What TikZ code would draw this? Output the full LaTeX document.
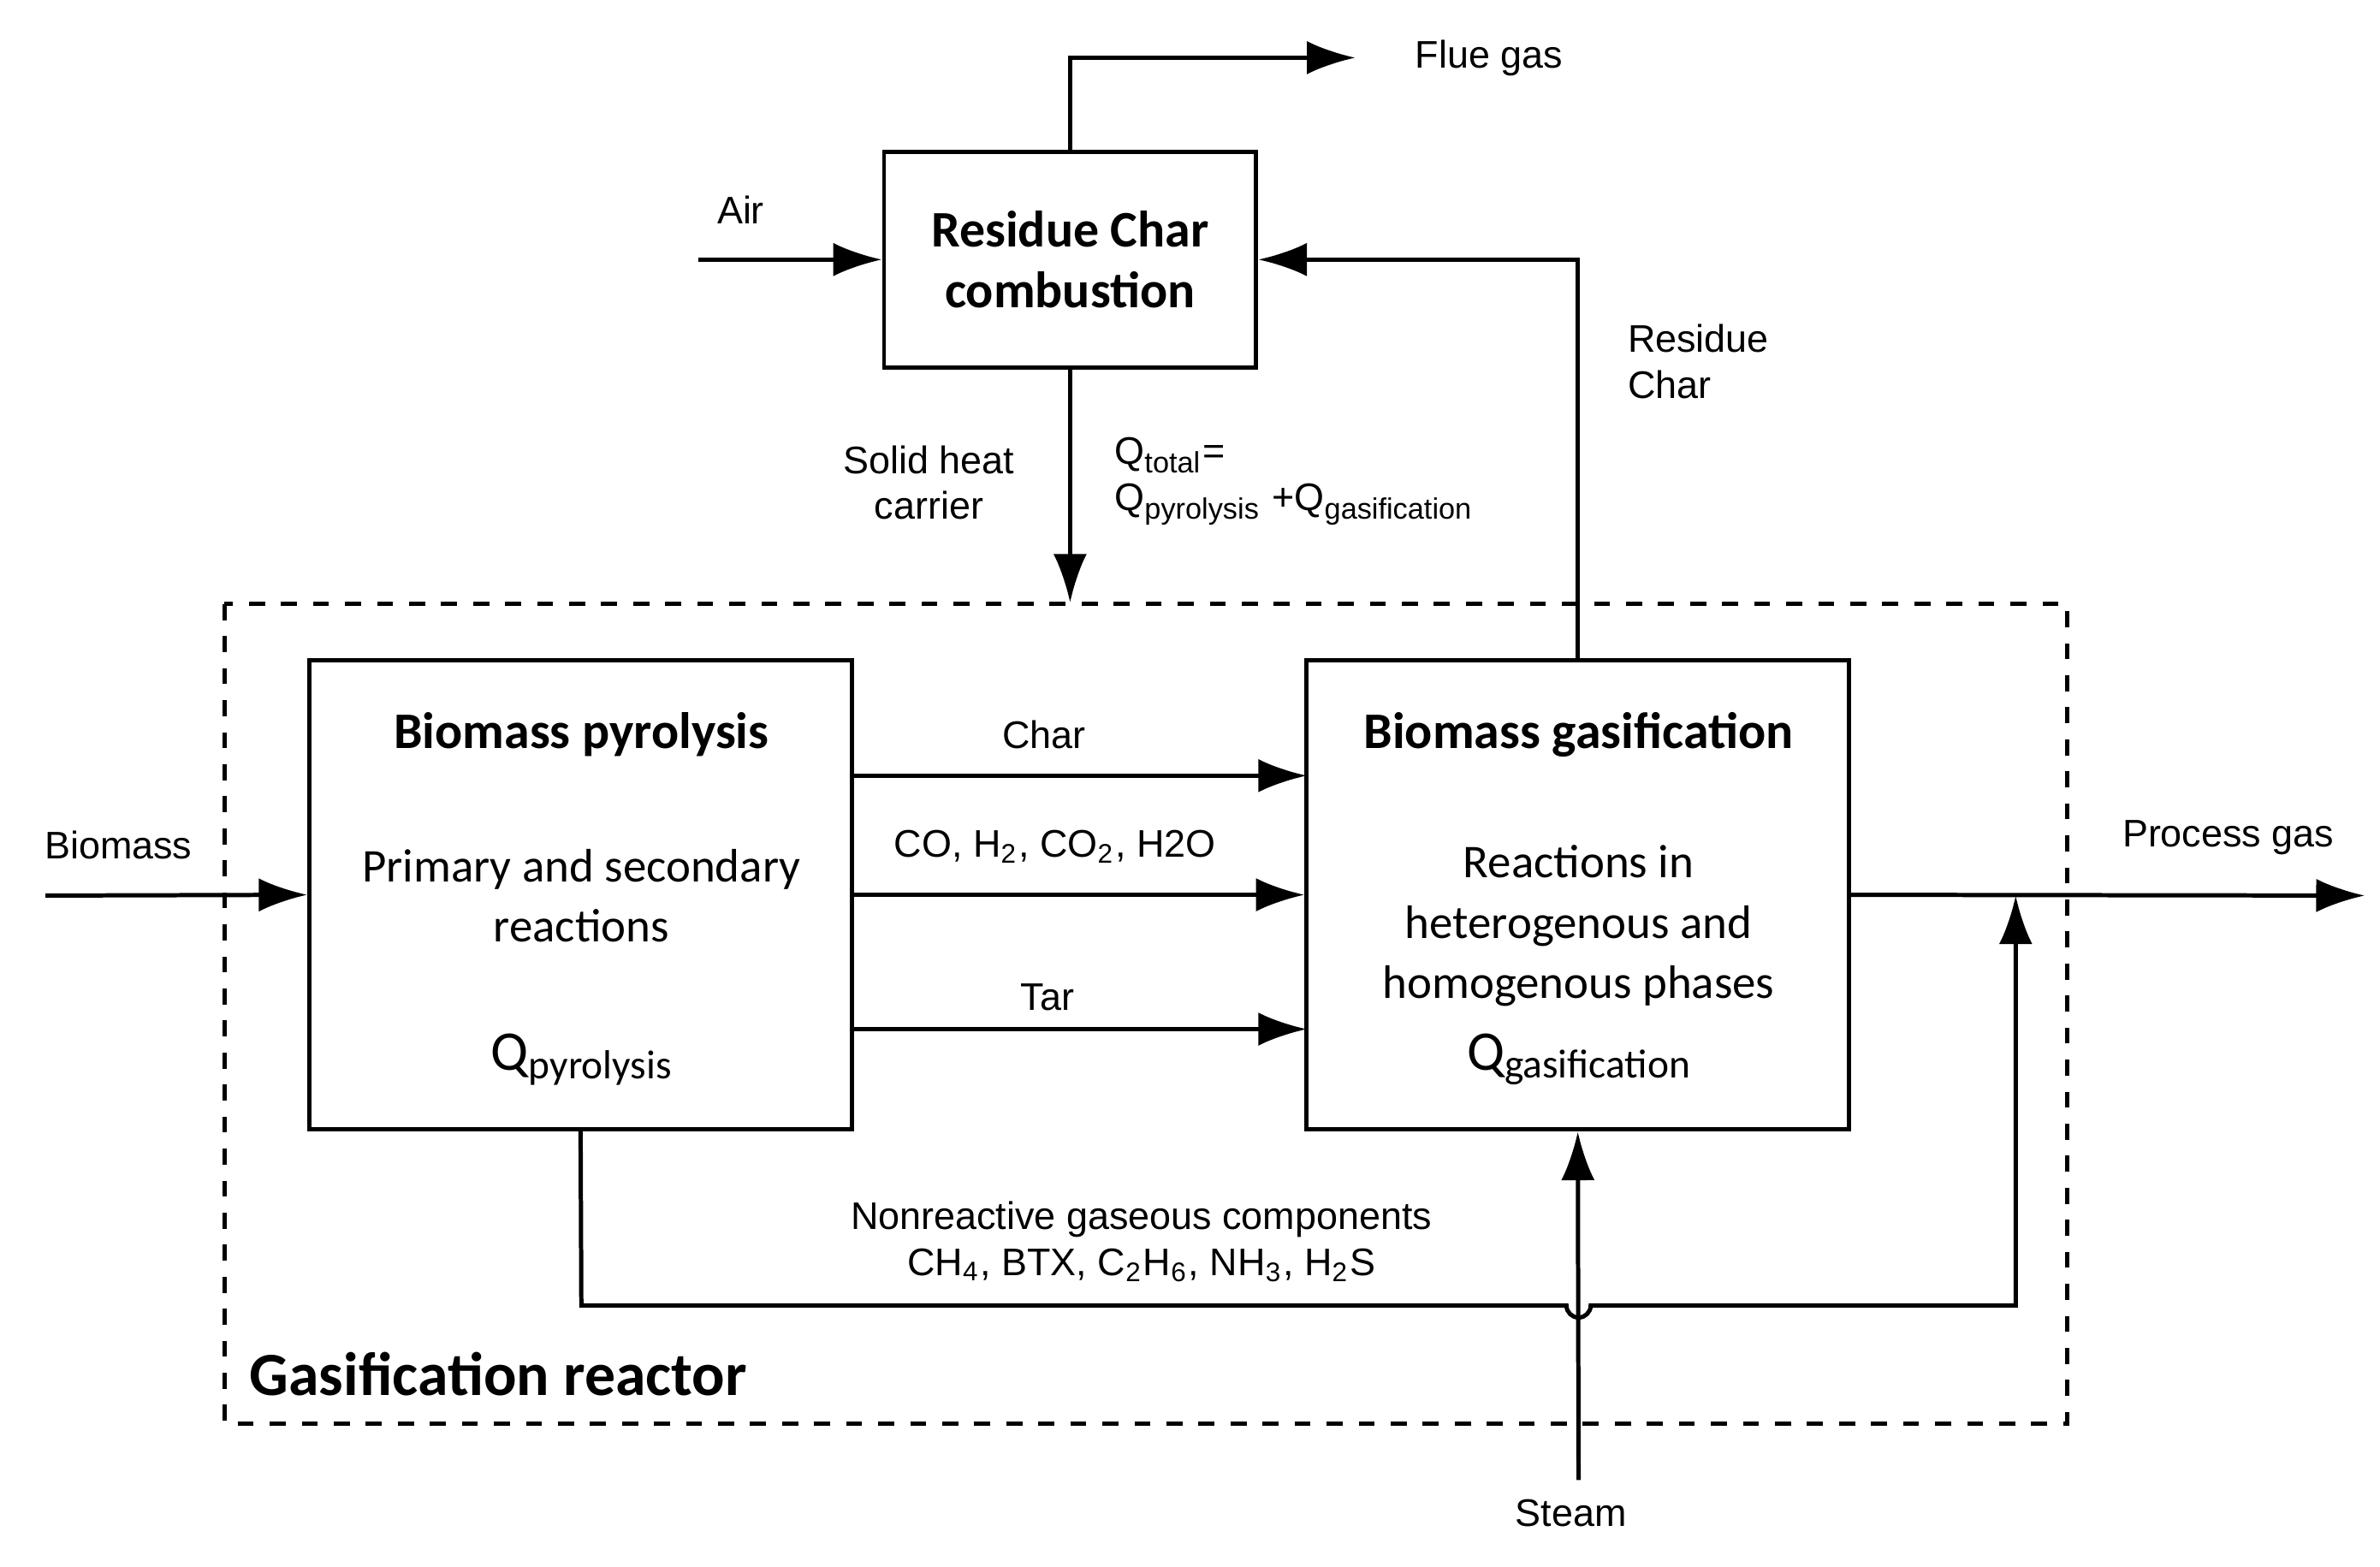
\documentclass[tikz,border=0pt]{standalone}
\usepackage{fontspec}
\setmainfont{Liberation Sans}
\newfontfamily\titlefont{Carlito}
\usetikzlibrary{arrows.meta}
\tikzset{
    flow/.style = {thick, -{Latex[length=3.2mm, width=2.2mm]}},
    block/.style = {draw, thick, minimum width = 3.57cm, minimum height = 3.09cm},
    lbl/.style = {font = \fontsize{7.2}{8.6}\selectfont, align = center},
    ttl/.style = {font = \titlefont\bfseries\fontsize{9.6}{11.5}\selectfont},
    txt/.style = {font = \titlefont\fontsize{8.8}{11.3}\selectfont, align = center}
}
\begin{document}
\begin{tikzpicture}[x = 0.01cm, y = -0.01cm]
    \useasboundingbox (0,0) rectangle (1568,1032);

    % blocks
    \node[draw, thick, minimum width = 2.45cm, minimum height = 1.42cm, ttl, align = center] (comb) at (705,171) {Residue Char\\combustion};
    \node[block] (pyro) at (382.5,589.5) {};
    \node[block] (gasi) at (1039.5,589.5) {};
    \draw[thick, dashed] (148,398) rectangle (1362,938);
    \node[font = \titlefont\bfseries\fontsize{11.5}{13}\selectfont, anchor = west] (reactor) at (152,905) {Gasification reactor};

    % block texts
    \node[ttl] at (383,484) {Biomass pyrolysis};
    \node[txt] at (383,590) {Primary and secondary\\reactions};
    \node[txt, font = \titlefont\fontsize{10.5}{12}\selectfont] at (383,698) {Q\raisebox{-0.3ex}{\fontsize{7.6}{8}\selectfont pyrolysis}};
    \node[ttl] at (1040,484) {Biomass gasification};
    \node[txt] at (1040,610) {Reactions in\\heterogenous and\\homogenous phases};
    \node[txt, font = \titlefont\fontsize{10.5}{12}\selectfont] at (1040,698) {Q\raisebox{-0.3ex}{\fontsize{7.6}{8}\selectfont gasification}};

    % inputs and outputs
    \coordinate (air) at (460,171);
    \coordinate (flue) at (893,38);
    \coordinate (bio) at (30,590);
    \coordinate (proc) at (1558,590);
    \coordinate (steam) at (1040,975);
    \draw[flow] (air) -- (comb.west);
    \draw[flow] (comb.north) |- (flue);
    \draw[flow] (bio) -- (pyro.west);
    \draw[flow] (gasi.east) -- (proc);
    \draw[flow] (steam) -- (gasi.south);
    \draw[flow] (gasi.north) |- (comb.east);
    \draw[flow] (comb.south) -- (705,397);

    % pyrolysis products
    \draw[flow] (561,511) -- (861,511);
    \draw[flow] (pyro.east) -- (gasi.west);
    \draw[flow] (561,678) -- (861,678);
    \draw[flow] (pyro.south) -- (383,860) -- (1032,860) arc (180:0:8) -- (1328,860) -- (1328,590);

    % labels
    \node[lbl] at (488,138) {Air};
    \node[lbl] at (981,38) {Flue gas};
    \node[lbl] at (78,557) {Biomass};
    \node[lbl] at (1468,552) {Process gas};
    \node[lbl] at (1035,997) {Steam};
    \node[lbl, align = left, anchor = west] at (1060,238) {Residue\\Char};
    \node[lbl] at (612,318) {Solid heat\\carrier};
    \node[lbl, align = left, anchor = west] at (722,317) {Q\textsubscript{\fontsize{5.5}{6}\selectfont total}=\\Q\textsubscript{\fontsize{5.5}{6}\selectfont pyrolysis} +Q\textsubscript{\fontsize{5.5}{6}\selectfont gasification}};
    \node[lbl] at (688,484) {Char};
    \node[lbl] at (695,558) {CO, H\textsubscript{2}, CO\textsubscript{2}, H2O};
    \node[lbl] at (690,657) {Tar};
    \node[lbl] at (752,818) {Nonreactive gaseous components\\CH\textsubscript{4}, BTX, C\textsubscript{2}H\textsubscript{6}, NH\textsubscript{3}, H\textsubscript{2}S};
\end{tikzpicture}
\end{document}
